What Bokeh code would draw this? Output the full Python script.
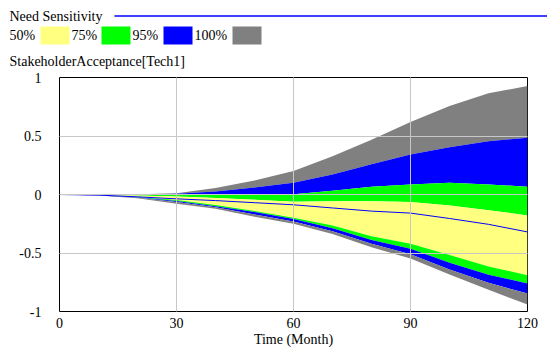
from bokeh.plotting import figure
from bokeh.models import Range1d, FixedTicker, CustomJSTickFormatter
from bokeh.core.properties import value
from bokeh.embed import file_html
from bokeh.resources import INLINE

# ---- data ----
time = [0, 10, 20, 30, 40, 50, 60, 70, 80, 90, 100, 110, 120]
gray_top = [0, 0, 0.002, 0.011, 0.055, 0.12, 0.2, 0.327, 0.468, 0.62, 0.757, 0.865, 0.927]
blue_top = [0, 0, 0.001, 0.006, 0.025, 0.06, 0.1, 0.17, 0.259, 0.341, 0.404, 0.456, 0.486]
green_top = [0, 0, 0, 0, -0.002, 0.001, 0.003, 0.032, 0.066, 0.085, 0.1, 0.086, 0.066]
yellow_top = [0, -0.002, -0.008, -0.018, -0.03, -0.045, -0.063, -0.057, -0.057, -0.065, -0.093, -0.134, -0.179]
median = [0, -0.005, -0.02, -0.037, -0.052, -0.07, -0.088, -0.115, -0.142, -0.159, -0.205, -0.255, -0.32]
yellow_bot = [0, -0.006, -0.022, -0.048, -0.09, -0.14, -0.198, -0.266, -0.357, -0.42, -0.518, -0.615, -0.69]
green_bot = [0, -0.007, -0.025, -0.055, -0.1, -0.15, -0.21, -0.288, -0.388, -0.463, -0.583, -0.685, -0.76]
blue_bot = [0, -0.008, -0.028, -0.065, -0.11, -0.17, -0.23, -0.315, -0.42, -0.51, -0.64, -0.755, -0.847]
gray_bot = [0, -0.009, -0.032, -0.078, -0.122, -0.19, -0.25, -0.337, -0.45, -0.548, -0.683, -0.815, -0.94]

x_ticks = [0, 30, 60, 90, 120]
y_ticks = [-1, -0.5, 0, 0.5, 1]
legend_labels = ["50%", "75%", "95%", "100%"]
legend_colors = ["#FFFF80", "#00FF00", "#0000FF", "#808080"]
title_text = "Need Sensitivity"
var_text = "StakeholderAcceptance[Tech1]"
x_label = "Time (Month)"

FONT = "Liberation Serif"
GLYPH_FONT = "'Liberation Serif', serif"
YEL, GRN, BLU, GRY = legend_colors
HEAD_H = 70

# ---- header strip: its own root, coordinates = page pixels (y downward) ----
h = figure(width=547, height=HEAD_H, output_backend="svg", toolbar_location=None,
           x_range=Range1d(0, 547), y_range=Range1d(HEAD_H, 0),
           x_axis_location=None, y_axis_location=None,
           min_border=0, min_border_left=0, min_border_right=0,
           min_border_top=0, min_border_bottom=0)
h.title.visible = False
h.grid.visible = False
h.outline_line_color = None
h.background_fill_color = "white"
h.border_fill_color = "white"

text_kw = dict(text_font=value(GLYPH_FONT), text_font_size=value("14px"),
               text_color="black", text_baseline="middle", text_align="left")
h.text(x=[9], y=[16], text=[title_text], **text_kw)
h.segment(x0=[114], y0=[15.5], x1=[547], y1=[15.5], line_color=BLU, line_width=1.5)
text_x = [9, 71, 132, 194]
sw_x = [40, 101, 163, 232]
h.text(x=text_x, y=[35] * 4, text=legend_labels, **text_kw)
h.quad(left=sw_x, right=[s + 29 for s in sw_x], top=[26] * 4, bottom=[44] * 4,
       fill_color=legend_colors, line_color=None)
h.text(x=[9], y=[61], text=[var_text], **text_kw)

# ---- main chart: second root, directly below ----
p = figure(width=547, height=349 - HEAD_H, output_backend="svg", toolbar_location=None,
           x_range=Range1d(0, 120), y_range=Range1d(-1, 1))
p.title.visible = False
p.min_border_left = 59
p.min_border_right = 20
p.min_border_top = 77 - HEAD_H
p.min_border_bottom = 38
p.background_fill_color = "white"
p.border_fill_color = "white"
p.outline_line_color = "black"
p.outline_line_width = 1

p.varea(x=time, y1=blue_top, y2=gray_top, fill_color=GRY)
p.varea(x=time, y1=green_top, y2=blue_top, fill_color=BLU)
p.varea(x=time, y1=yellow_top, y2=green_top, fill_color=GRN)
p.varea(x=time, y1=yellow_bot, y2=yellow_top, fill_color=YEL)
p.varea(x=time, y1=green_bot, y2=yellow_bot, fill_color=GRN)
p.varea(x=time, y1=blue_bot, y2=green_bot, fill_color=BLU)
p.varea(x=time, y1=gray_bot, y2=blue_bot, fill_color=GRY)
p.line(x=time, y=median, line_color=BLU, line_width=1)

for ax in (p.xaxis[0], p.yaxis[0]):
    ax.major_tick_line_color = None
    ax.minor_tick_line_color = None
    ax.axis_line_color = None
    ax.major_label_text_font = FONT
    ax.major_label_text_font_size = "14px"
    ax.major_label_text_color = "black"
    ax.axis_label_text_font = FONT
    ax.axis_label_text_font_size = "14px"
    ax.axis_label_text_font_style = "normal"
    ax.axis_label_text_color = "black"

p.xaxis.ticker = FixedTicker(ticks=x_ticks)
p.yaxis.ticker = FixedTicker(ticks=y_ticks)
p.yaxis.formatter = CustomJSTickFormatter(code="return tick.toString();")
p.xaxis.axis_label = x_label
p.xaxis.major_label_standoff = 0
p.xaxis.axis_label_standoff = 1
p.yaxis.major_label_standoff = 12

p.xgrid.ticker = FixedTicker(ticks=[30, 60, 90])
p.ygrid.ticker = FixedTicker(ticks=[-0.5, 0, 0.5])
for g in (p.xgrid[0], p.ygrid[0]):
    g.grid_line_color = "#C8C8C8"
    g.grid_line_width = 1
    g.level = "overlay"

open("out.html", "w").write(file_html([h, p], INLINE))
